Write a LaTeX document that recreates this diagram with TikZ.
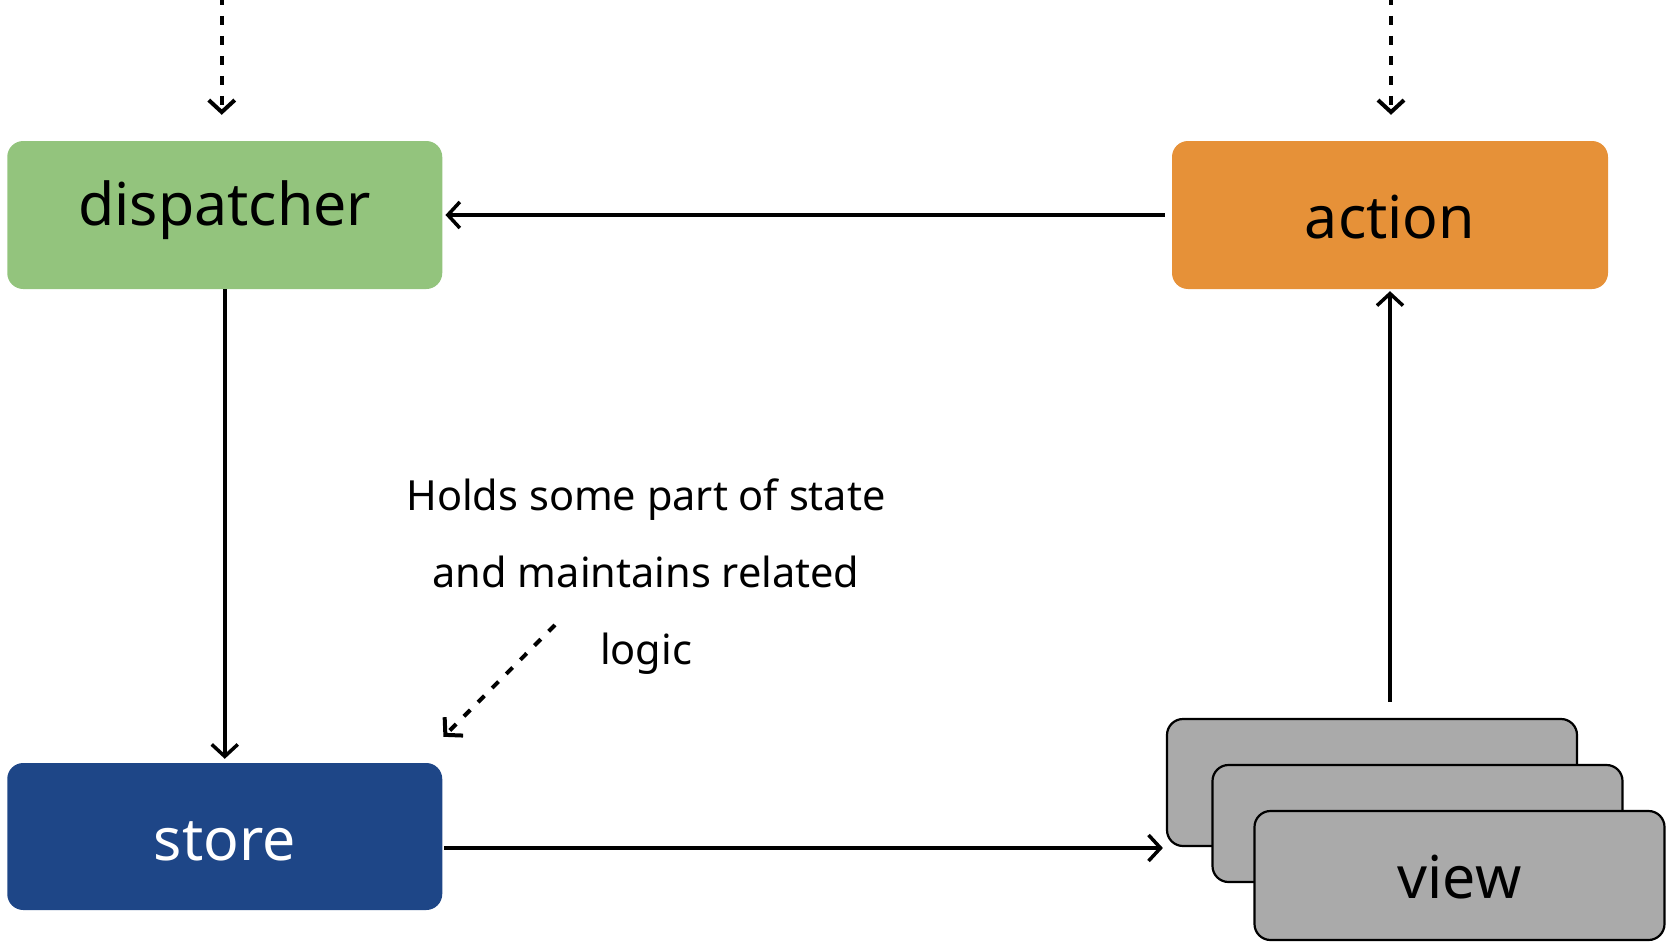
\documentclass[tikz,border=0pt]{standalone}
\usepackage{fontspec}
\setmainfont{Noto Sans}
\usetikzlibrary{arrows.meta, positioning, calc}
\definecolor{flxgreen}{RGB}{147,196,125}
\definecolor{flxorange}{RGB}{230,145,56}
\definecolor{flxblue}{RGB}{30,70,135}
\definecolor{flxgray}{RGB}{170,170,170}

\begin{document}
\begin{tikzpicture}[x=1pt, y=-1pt,
  box/.style={rounded corners=16pt, inner sep=0pt, font=\fontsize{59}{70}\selectfont, text depth=0pt},
  viewbox/.style={box, draw=black, line width=2.2pt, fill=flxgray, minimum width=410pt},
  note/.style={font=\fontsize{41.5}{77}\selectfont, align=center, inner sep=0pt},
  flow/.style={line width=3.5pt, -{Straight Barb[length=12pt,width=26pt]}},
  dashflow/.style={flow, line width=4pt, dash pattern=on 9pt off 11pt}]
\useasboundingbox (0,0) rectangle (1671,942);
% boxes
\node[box, fill=flxgreen, minimum width=435pt, minimum height=148pt, text height=20pt] (dispatcher) at (224.75,215) {dispatcher};
\node[box, fill=flxorange, minimum width=436pt, minimum height=148pt, text height=46pt] (action) at (1390,215) {action};
\node[box, fill=flxblue, text=white, minimum width=435pt, minimum height=147pt, text height=47pt] (store) at (224.75,836.5) {store};
\node[viewbox, minimum height=127pt] (viewback) at (1372,782.5) {};
\node[viewbox, minimum height=117pt] (viewmid) at (1417.5,823.5) {};
\node[viewbox, minimum height=129pt, text height=45pt] (view) at (1459.5,875.5) {view};
% note
\node[note, anchor=base] (note) at (646,664) {Holds some part of state\\and maintains related\\logic};
% connectors
\coordinate (inDispatcher) at ($(dispatcher.north)+(-3,-145)$);
\coordinate (inAction) at ($(action.north)+(1,-145)$);
\draw[dashflow, shorten >=26pt] (inDispatcher) -- (inDispatcher |- dispatcher.north);
\draw[dashflow, shorten >=26pt] (inAction) -- (inAction |- action.north);
\draw[flow] ([xshift=-7pt]action.west) -- ([xshift=3pt]dispatcher.east);
\draw[flow] (dispatcher.south) -- ([yshift=4pt]store.north);
\coordinate (s2v) at ([xshift=2pt,yshift=-11.5pt]store.east);
\draw[flow, shorten >=3pt] (s2v) -- (s2v -| viewback.west);
\coordinate (v2a) at ($(viewback.north -| action.south)+(0,-16)$);
\draw[flow, shorten >=2pt] (v2a) -- (action.south);
\coordinate (noteTail) at (555,625);
\draw[dashflow] (noteTail) -- ([xshift=1pt,yshift=26pt]store.north east);
\end{tikzpicture}
\end{document}
